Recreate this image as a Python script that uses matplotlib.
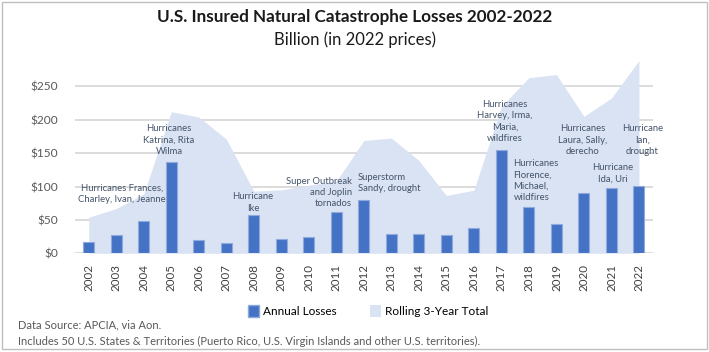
import matplotlib
matplotlib.use('Agg')
import matplotlib.pyplot as plt
from matplotlib.patches import Patch, Rectangle
import numpy as np

# data ($ billion, 2022 prices)
years = [str(y) for y in range(2002, 2023)]
annual = [17, 27, 49, 136, 20, 16, 58, 22, 25, 62, 79.5, 29.5, 28.5, 27, 38,
          154.5, 69.5, 43.5, 90.5, 98, 100.5]
rolling3 = [54, 67, 89, 212, 204, 171, 93, 95, 102, 108, 169, 172.5, 139, 86.5,
            94.5, 220, 263, 267.5, 205, 232.5, 288.5]
yticks = [0, 50, 100, 150, 200, 250]

# event notes: text, year index, value, alignment
notes = [
    ("Hurricanes Frances,\nCharley, Ivan, Jeanne", 1.2, 89, 'center'),
    ("Hurricanes\nKatrina, Rita\nWilma", 2.92, 170, 'center'),
    ("Hurricane\nIke", 5.97, 76, 'center'),
    ("Super Outbreak\nand Joplin\ntornados", 9.57, 91, 'right'),
    ("Superstorm\nSandy, drought", 9.77, 105, 'left'),
    ("Hurricanes\nHarvey, Irma,\nMaria,\nwildfires", 15.13, 197, 'center'),
    ("Hurricanes\nFlorence,\nMichael,\nwildfires", 15.44, 109, 'left'),
    ("Hurricanes\nLaura, Sally,\nderecho", 17.96, 169, 'center'),
    ("Hurricane\nIda, Uri", 19.04, 120, 'center'),
    ("Hurricane\nIan,\ndrought", 20.12, 169, 'center'),
]

plt.rcParams['font.family'] = ['Lato', 'DejaVu Sans']

fig = plt.figure(figsize=(7.09, 3.52), dpi=100)
ax = fig.add_axes([0.1058, 0.2804, 0.8148, 0.5693])

x = np.arange(len(years))
ax.fill_between(x, 0, rolling3, color='#dae3f3', lw=0, zorder=2)
ax.bar(x, annual, width=0.4, color='#4472c4', edgecolor='#8faadc', lw=0.8, zorder=3)

for txt, xi, yv, ha in notes:
    ax.text(xi, yv, txt, ha=ha, va='center', fontsize=6.8, color='#44546a',
            linespacing=1.35, zorder=4)

ax.set_xlim(-0.5, len(years) - 0.5)
ax.set_ylim(0, 300)
ax.set_yticks(yticks)
ax.set_yticklabels(['${}'.format(v) for v in yticks], fontsize=8.6, color='#595959')
ax.set_xticks(x)
ax.set_xticklabels(years, rotation=90, fontsize=8.3, color='#404040')
ax.tick_params(length=0, pad=8)
ax.tick_params(axis='y', pad=12)
ax.yaxis.grid(True, color='#d9d9d9', lw=1.3, zorder=1)
ax.set_axisbelow(True)
for s in ax.spines.values():
    s.set_visible(False)

fig.text(0.5, 0.952, 'U.S. Insured Natural Catastrophe Losses 2002-2022',
         ha='center', va='center', fontsize=12.3, fontweight='bold', color='#1a1a1a')
fig.text(0.5, 0.887, 'Billion (in 2022 prices)', ha='center', va='center',
         fontsize=12, color='#1a1a1a')

handles = [Patch(facecolor='#4472c4', edgecolor='#8faadc', label='Annual Losses'),
           Patch(facecolor='#dae3f3', label='Rolling 3-Year Total')]
fig.legend(handles=handles, loc='center', bbox_to_anchor=(0.519, 0.1165), ncol=2,
           frameon=False, fontsize=8.5, handlelength=1.0, handleheight=1.3,
           columnspacing=2.8, handletextpad=0.3)

fig.text(0.025, 0.077, 'Data Source: APCIA, via Aon.', fontsize=8,
         color='#595959', va='center')
fig.text(0.025, 0.031, 'Includes 50 U.S. States & Territories (Puerto Rico, U.S. Virgin '
         'Islands and other U.S. territories).', fontsize=8, color='#595959', va='center')

fig.patches.append(Rectangle((0.003, 0.008), 0.994, 0.986, transform=fig.transFigure,
                             fill=False, edgecolor='#bfbfbf', lw=1))

fig.savefig('out.png', dpi=100)
